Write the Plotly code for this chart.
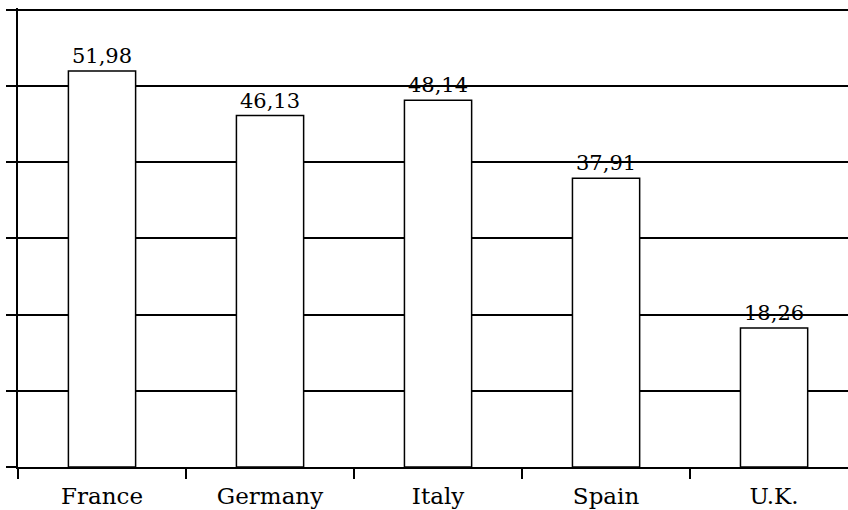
import plotly.graph_objects as go

countries = ["France", "Germany", "Italy", "Spain", "U.K."]
values = [51.98, 46.13, 48.14, 37.91, 18.26]

fig = go.Figure()
fig.add_trace(go.Bar(
    x=countries,
    y=values,
    width=0.4,
    marker=dict(color="white", line=dict(color="black", width=1.5)),
    texttemplate="%{y:.2f}",
    textposition="outside",
    textfont=dict(family="DejaVu Serif", size=21, color="black"),
    cliponaxis=False,
    hoverinfo="skip",
))

fig.update_layout(
    width=848, height=510,
    margin=dict(l=18, r=0, t=8, b=43, autoexpand=False),
    paper_bgcolor="white",
    plot_bgcolor="white",
    separators=",.",
    showlegend=False,
    font=dict(family="DejaVu Serif", size=23, color="black"),
    bargap=0.6,
)
fig.update_xaxes(
    type="category",
    range=[-0.5, 4.44],
    tickson="boundaries",
    ticks="outside",
    ticklen=10,
    tickwidth=1.5,
    tickcolor="black",
    showline=True,
    linecolor="black",
    linewidth=1.5,
    showgrid=False,
    automargin=False,
    ticklabelstandoff=8,
    tickfont=dict(family="DejaVu Serif", size=23, color="black"),
)
fig.update_yaxes(
    range=[0, 60.25],
    tickvals=[0, 10, 20, 30, 40, 50, 60],
    ticks="outside",
    ticklen=10,
    tickwidth=1.5,
    tickcolor="black",
    showticklabels=False,
    showline=True,
    linecolor="black",
    linewidth=1.5,
    showgrid=True,
    gridcolor="black",
    gridwidth=1.5,
    zeroline=False,
    automargin=False,
)

fig.write_html(
    "out.html",
    config={"displayModeBar": False},
    post_script="document.body.style.margin='0';document.body.style.overflow='hidden';",
)
